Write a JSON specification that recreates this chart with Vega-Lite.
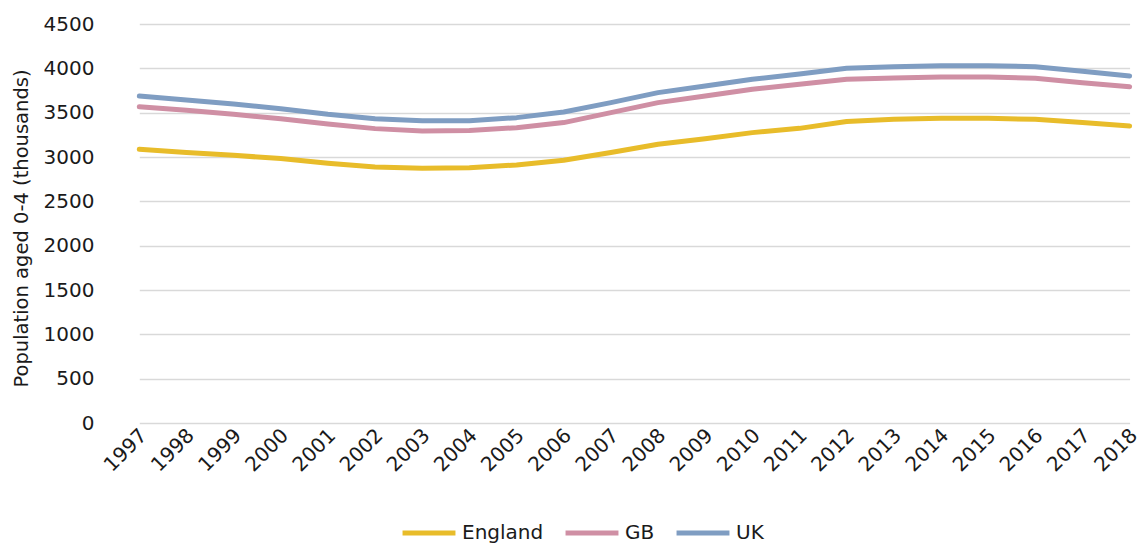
{
  "$schema": "https://vega.github.io/schema/vega-lite/v6.json",
  "autosize": {"type": "none"},
  "padding": {"left": 116, "top": 24, "right": 0, "bottom": 120},
  "width": 1031,
  "height": 399,
  "background": "white",
  "config": {
    "font": "DejaVu Sans",
    "view": {"stroke": null},
    "axis": {"labelFont": "DejaVu Sans", "titleFont": "DejaVu Sans", "labelColor": "#1a1a1a", "titleColor": "#1a1a1a"},
    "legend": {"labelFont": "DejaVu Sans", "labelColor": "#1a1a1a"}
  },
  "data": {
    "values": [
      {"year": "1997", "region": "England", "value": 3087}, {"year": "1997", "region": "GB", "value": 3567}, {"year": "1997", "region": "UK", "value": 3687},
      {"year": "1998", "region": "England", "value": 3050}, {"year": "1998", "region": "GB", "value": 3526}, {"year": "1998", "region": "UK", "value": 3642},
      {"year": "1999", "region": "England", "value": 3019}, {"year": "1999", "region": "GB", "value": 3481}, {"year": "1999", "region": "UK", "value": 3597},
      {"year": "2000", "region": "England", "value": 2982}, {"year": "2000", "region": "GB", "value": 3432}, {"year": "2000", "region": "UK", "value": 3545},
      {"year": "2001", "region": "England", "value": 2929}, {"year": "2001", "region": "GB", "value": 3372}, {"year": "2001", "region": "UK", "value": 3481},
      {"year": "2002", "region": "England", "value": 2887}, {"year": "2002", "region": "GB", "value": 3320}, {"year": "2002", "region": "UK", "value": 3432},
      {"year": "2003", "region": "England", "value": 2873}, {"year": "2003", "region": "GB", "value": 3293}, {"year": "2003", "region": "UK", "value": 3410},
      {"year": "2004", "region": "England", "value": 2880}, {"year": "2004", "region": "GB", "value": 3300}, {"year": "2004", "region": "UK", "value": 3408},
      {"year": "2005", "region": "England", "value": 2910}, {"year": "2005", "region": "GB", "value": 3331}, {"year": "2005", "region": "UK", "value": 3444},
      {"year": "2006", "region": "England", "value": 2963}, {"year": "2006", "region": "GB", "value": 3388}, {"year": "2006", "region": "UK", "value": 3507},
      {"year": "2007", "region": "England", "value": 3050}, {"year": "2007", "region": "GB", "value": 3500}, {"year": "2007", "region": "UK", "value": 3613},
      {"year": "2008", "region": "England", "value": 3143}, {"year": "2008", "region": "GB", "value": 3613}, {"year": "2008", "region": "UK", "value": 3726},
      {"year": "2009", "region": "England", "value": 3207}, {"year": "2009", "region": "GB", "value": 3688}, {"year": "2009", "region": "UK", "value": 3801},
      {"year": "2010", "region": "England", "value": 3275}, {"year": "2010", "region": "GB", "value": 3763}, {"year": "2010", "region": "UK", "value": 3876},
      {"year": "2011", "region": "England", "value": 3323}, {"year": "2011", "region": "GB", "value": 3820}, {"year": "2011", "region": "UK", "value": 3935},
      {"year": "2012", "region": "England", "value": 3400}, {"year": "2012", "region": "GB", "value": 3876}, {"year": "2012", "region": "UK", "value": 4000},
      {"year": "2013", "region": "England", "value": 3425}, {"year": "2013", "region": "GB", "value": 3891}, {"year": "2013", "region": "UK", "value": 4019},
      {"year": "2014", "region": "England", "value": 3436}, {"year": "2014", "region": "GB", "value": 3902}, {"year": "2014", "region": "UK", "value": 4030},
      {"year": "2015", "region": "England", "value": 3436}, {"year": "2015", "region": "GB", "value": 3902}, {"year": "2015", "region": "UK", "value": 4030},
      {"year": "2016", "region": "England", "value": 3425}, {"year": "2016", "region": "GB", "value": 3887}, {"year": "2016", "region": "UK", "value": 4019},
      {"year": "2017", "region": "England", "value": 3388}, {"year": "2017", "region": "GB", "value": 3838}, {"year": "2017", "region": "UK", "value": 3966},
      {"year": "2018", "region": "England", "value": 3350}, {"year": "2018", "region": "GB", "value": 3793}, {"year": "2018", "region": "UK", "value": 3913}
    ]
  },
  "mark": {"type": "line", "strokeWidth": 5, "strokeCap": "round", "strokeJoin": "round"},
  "encoding": {
    "x": {
      "field": "year",
      "type": "ordinal",
      "scale": {"type": "point", "range": [23.3, 1013.6], "padding": 0},
      "axis": {
        "title": null,
        "labelAngle": -45,
        "labelFontSize": 20,
        "labelPadding": 2,
        "labelOffset": -3,
        "ticks": false,
        "domain": false,
        "grid": false
      }
    },
    "y": {
      "field": "value",
      "type": "quantitative",
      "scale": {"domain": [0, 4500], "nice": false, "zero": true},
      "axis": {
        "title": "Population aged 0-4 (thousands)",
        "titleFontSize": 19.5,
        "titleFontWeight": "normal",
        "titlePadding": 12,
        "titleY": 204,
        "format": "d",
        "values": [0, 500, 1000, 1500, 2000, 2500, 3000, 3500, 4000, 4500],
        "labelFontSize": 20,
        "labelPadding": 22,
        "ticks": false,
        "domain": false,
        "grid": true,
        "gridColor": "#d9d9d9",
        "gridWidth": 1.6
      }
    },
    "color": {
      "field": "region",
      "type": "nominal",
      "scale": {"domain": ["England", "GB", "UK"], "range": ["#e8bc2a", "#cf8fa4", "#7f9dc2"]},
      "legend": {
        "title": null,
        "orient": "none",
        "direction": "horizontal",
        "legendX": 284,
        "legendY": 480,
        "symbolType": "stroke",
        "symbolSize": 2800,
        "symbolStrokeWidth": 5,
        "labelFontSize": 20,
        "labelOffset": 4,
        "columnPadding": 11
      }
    }
  }
}
